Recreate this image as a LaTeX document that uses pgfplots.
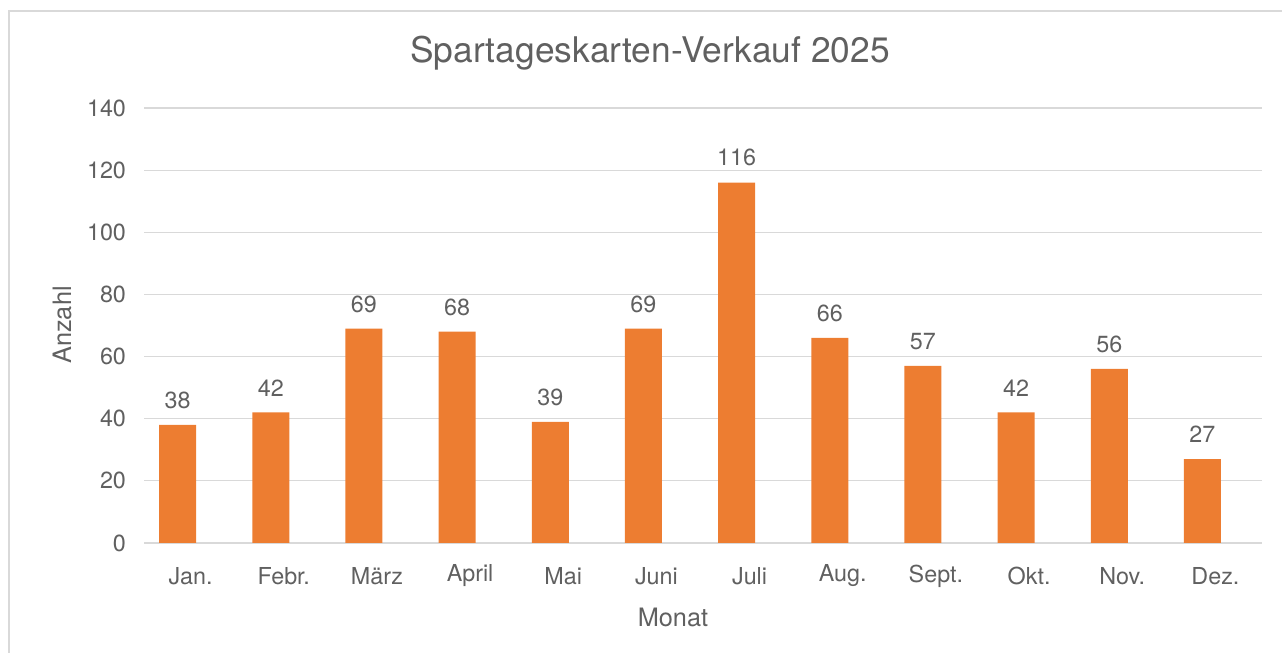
\documentclass[border=0pt]{standalone}
\usepackage{fontspec}
\setmainfont{TeX Gyre Heros}
\usepackage{pgfplots}
\pgfplotsset{compat=1.18}
\definecolor{barorange}{HTML}{ED7D31}
\definecolor{txtgray}{HTML}{606060}
\definecolor{gridgray}{HTML}{D9D9D9}
\begin{document}
\begin{tikzpicture}
\useasboundingbox (0,0) rectangle (961.5pt,489.75pt);
\draw[gridgray, line width=1.2pt] (6.75pt,-5pt) -- (6.75pt,481.5pt) -- (970pt,481.5pt);
\begin{axis}[
  at={(108pt,82.5pt)}, anchor=south west,
  scale only axis, width=838.5pt, height=326.25pt,
  xmin=-0.5, xmax=11.5, ymin=0, ymax=140,
  ytick={0,20,...,140},
  xtick={0,...,11},
  xticklabels={Jan.,Febr.,März,April,Mai,Juni,Juli,Aug.,Sept.,Okt.,Nov.,Dez.},
  axis line style={draw=none},
  major tick style={draw=none},
  ymajorgrids, grid style={gridgray, line width=0.9pt},
  /pgf/number format/assume math mode=true,
  tick label style={font=\fontsize{17.5}{20}\selectfont, text=txtgray},
  xticklabel style={anchor=center, yshift=-20.5pt},
  yticklabel style={anchor=east, xshift=-10pt},
  ybar, bar width=27.75pt, bar shift=-9.75pt,
  nodes near coords,
  every node near coord/.append style={font=\fontsize{17.5}{20}\selectfont, text=txtgray, anchor=center, yshift=18.5pt},
  clip=false,
]
\addplot[fill=barorange, draw=none] coordinates {
(0,38) (1,42) (2,69) (3,68) (4,39) (5,69) (6,116) (7,66) (8,57) (9,42) (10,56) (11,27)};
\end{axis}
\node[text=txtgray, font=\fontsize{26.5}{30}\selectfont] at (487.5pt,450pt) {Spartageskarten-Verkauf 2025};
\node[text=txtgray, font=\fontsize{19}{22}\selectfont, rotate=90] at (46.5pt,246pt) {Anzahl};
\node[text=txtgray, font=\fontsize{19}{22}\selectfont] at (504.75pt,27pt) {Monat};
\end{tikzpicture}
\end{document}
